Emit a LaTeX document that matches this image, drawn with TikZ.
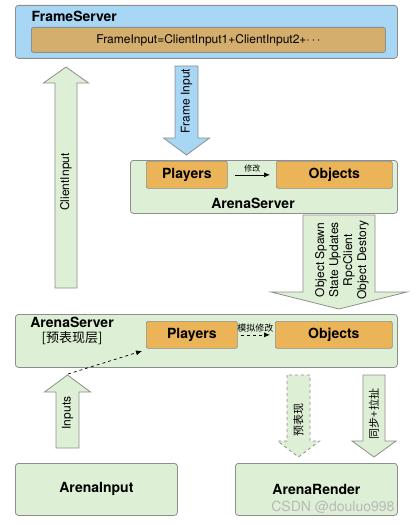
\documentclass[tikz,border=0pt]{standalone}
\usepackage{fontspec}
\setmainfont{TeX Gyre Heros}
\newfontfamily\cjk{Noto Sans CJK SC}
\usetikzlibrary{positioning,arrows.meta}
\definecolor{skyblue}{HTML}{A8D6F5}
\definecolor{tanbox}{HTML}{D4AE6C}
\definecolor{palegreen}{HTML}{DDEFD4}
\definecolor{orangebox}{HTML}{ECB458}
\definecolor{edgegray}{HTML}{8E8E8E}
\newcommand{\fs}[1]{\fontsize{#1}{#1}\selectfont}
% style, x centre, y tail, y head base, y tip, half shaft, half head
\newcommand{\blockarrow}[7]{%
  \draw[#1] (#2-#6,#3) -- (#2-#6,#4) -- (#2-#7,#4) -- (#2,#5)
    -- (#2+#7,#4) -- (#2+#6,#4) -- (#2+#6,#3) -- cycle;}

\begin{document}
\begin{tikzpicture}[x=1pt,y=-1pt,
  panel/.style={draw=edgegray,line width=0.8pt,rounded corners=3pt,anchor=north west,inner sep=0pt},
  item/.style={draw=edgegray,line width=0.7pt,fill=orangebox,rounded corners=2pt,anchor=north west,
    inner sep=0pt,minimum height=27pt,font=\fs{14}\bfseries},
  flow/.style={draw=edgegray,line width=0.8pt,line join=miter},
  lbl/.style={rotate=90,font=\fs{12}}]
  \useasboundingbox (0,0) rectangle (412,524);

  % frame server
  \node[panel,fill=skyblue,minimum width=382pt,minimum height=53pt] (frame) at (15,5) {};
  \node[anchor=west,font=\fs{14}\bfseries] (frametitle) at (28,16) {FrameServer};
  \node[panel,fill=tanbox,rounded corners=2pt,minimum width=354pt,minimum height=25pt] (frameinput) at (31,27)
    {\fs{12}FrameInput=ClientInput1+ClientInput2+$\cdots$};

  % authoritative arena server
  \node[panel,fill=palegreen,minimum width=267pt,minimum height=53pt] (arena) at (130,160) {};
  \node[item,minimum width=81pt] (players) at (146,161) {Players};
  \node[item,minimum width=116pt] (objects) at (276,161) {Objects};
  \node[font=\fs{14}\bfseries] (arenatitle) at (253,203) {ArenaServer};
  \draw[-{Latex[length=6pt,width=5pt]},line width=0.7pt] ([xshift=7pt]players.east) -- ([xshift=-6pt]objects.west)
    node[midway,above=-1pt,font=\cjk\fs{8}] (modify) {修改};

  % predicting arena server
  \node[panel,fill=palegreen,minimum width=382pt,minimum height=53pt] (predict) at (15,314) {};
  \node[align=center,font=\fs{14}] (predicttitle) at (72,331) {\bfseries ArenaServer\\[1pt]{\cjk\fs{13}[预表现层]}};
  \node[item,minimum width=91pt] (players2) at (146,321) {Players};
  \node[item,minimum width=117pt] (objects2) at (275,321) {Objects};
  \draw[-{Latex[length=6pt,width=5pt]},line width=0.7pt,dashed] ([xshift=3pt]players2.east) -- ([xshift=-5pt]objects2.west)
    node[midway,above=-1pt,font=\cjk\fs{9}] (simmodify) {模拟修改};

  % clients
  \node[panel,fill=palegreen,minimum width=162pt,minimum height=52pt,font=\fs{14}\bfseries] (input) at (15,463) {};
  \node[font=\fs{14}\bfseries] (inputname) at (input.center) {ArenaInput};
  \node[panel,fill=palegreen,minimum width=162pt,minimum height=52pt] (render) at (235,463) {};
  \node[font=\fs{14}\bfseries] (rendername) at (render.center) {ArenaRender};

  % block arrows
  \blockarrow{flow,fill=skyblue}{186.5}{66}{138}{155}{11.5}{23}
  \node[lbl] (lblframe) at (186.5,101) {Frame Input};
  \blockarrow{flow,fill=palegreen}{66}{288}{83}{67}{11}{22.5}
  \node[lbl] (lblclient) at (66,182) {ClientInput};
  \blockarrow{flow,fill=palegreen}{339}{215}{292}{309}{36}{68}
  \node[lbl,align=center,inner sep=0pt,font=\fontsize{12}{14}\selectfont] (lblsync) at (342,260)
    {Object Spawn\\State Updates\\RpcClient\\Object Destory};
  \blockarrow{flow,fill=palegreen}{67.5}{448}{392}{375}{11.5}{23}
  \node[lbl] (lblinputs) at (67.5,413) {Inputs};
  \blockarrow{flow,fill=palegreen,dashed}{298.5}{375}{441}{457}{11.5}{21}
  \node[lbl,font=\cjk\fs{11}] (lblpredict) at (298.5,420) {预表现};
  \blockarrow{flow,fill=palegreen}{374}{375}{441}{457}{11}{22}
  \node[lbl,font=\cjk\fs{11}] (lblpull) at (374,414) {同步+拉扯};

  % local input feeds prediction
  \coordinate (inputtip) at (68,374);
  \coordinate (players2foot) at (142,351);
  \draw[-{Latex[length=6pt,width=5pt]},line width=0.7pt,dashed] (inputtip) -- (players2foot);

  \node[anchor=east,text=gray!55,font=\fs{14}] (mark) at (398,507) {CSDN @douluo998};
\end{tikzpicture}
\end{document}
